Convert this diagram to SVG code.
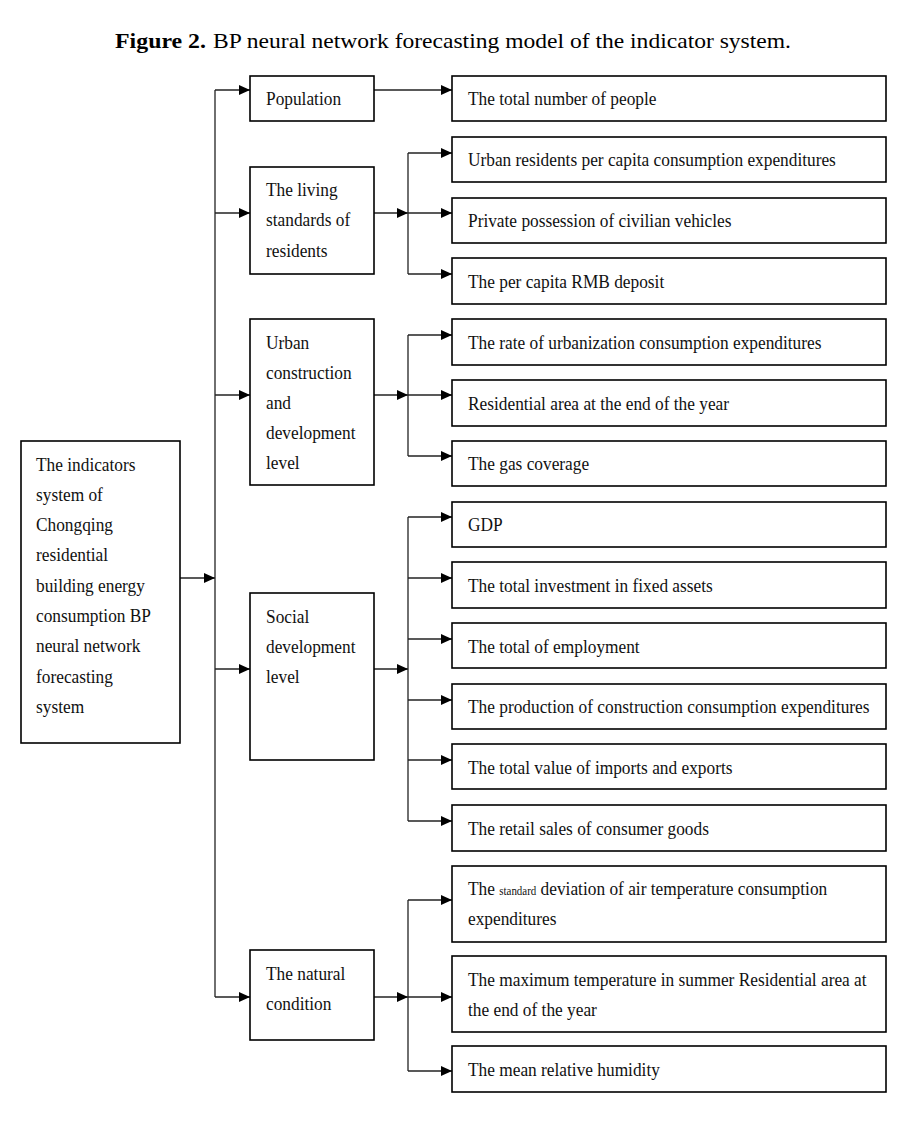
<svg xmlns="http://www.w3.org/2000/svg" width="920" height="1121" viewBox="0 0 920 1121">
<style>
.box{fill:#fff;stroke:#000;stroke-width:1.6}
.t{font-family:"Liberation Serif","Times New Roman",serif;font-size:19.8px;fill:#111}
.ti{font-family:"Liberation Serif","Times New Roman",serif;font-size:21px;fill:#000}
.c{fill:none;stroke:#222;stroke-width:1.3}
.a{marker-end:url(#ah)}
</style>
<defs>
<marker id="ah" markerUnits="userSpaceOnUse" markerWidth="11" markerHeight="10" refX="11" refY="5" orient="auto">
<path d="M0,0 L11,5 L0,10 z" fill="#000"/>
</marker>
</defs>
<rect width="920" height="1121" fill="#fff"/>
<g id="title">
<text class="ti" x="115" y="48" font-weight="bold" textLength="91" lengthAdjust="spacingAndGlyphs">Figure 2.</text>
<text class="ti" x="213" y="48" textLength="578" lengthAdjust="spacingAndGlyphs">BP neural network forecasting model of the indicator system.</text>
</g>
<g id="connectors">
<path class="c a" d="M180,578 H215"/>
<path class="c" d="M215,90 V997"/>
<path class="c a" d="M215,90 H250"/>
<path class="c a" d="M215,213 H250"/>
<path class="c a" d="M215,395 H250"/>
<path class="c a" d="M215,669 H250"/>
<path class="c a" d="M215,997 H250"/>
<path class="c a" d="M374,90 H452"/>
<path class="c a" d="M374,213 H408"/>
<path class="c" d="M408,153 V274"/>
<path class="c a" d="M408,153 H452"/>
<path class="c a" d="M408,213 H452"/>
<path class="c a" d="M408,274 H452"/>
<path class="c a" d="M374,395 H408"/>
<path class="c" d="M408,335 V456"/>
<path class="c a" d="M408,335 H452"/>
<path class="c a" d="M408,395 H452"/>
<path class="c a" d="M408,456 H452"/>
<path class="c a" d="M374,669 H408"/>
<path class="c" d="M408,517 V821"/>
<path class="c a" d="M408,517 H452"/>
<path class="c a" d="M408,578 H452"/>
<path class="c a" d="M408,639 H452"/>
<path class="c a" d="M408,700 H452"/>
<path class="c a" d="M408,760 H452"/>
<path class="c a" d="M408,821 H452"/>
<path class="c a" d="M374,997 H408"/>
<path class="c" d="M408,900 V1071"/>
<path class="c a" d="M408,900 H452"/>
<path class="c a" d="M408,997 H452"/>
<path class="c a" d="M408,1071 H452"/>
</g>
<g id="root">
<rect class="box" x="21" y="441" width="159" height="302"/>
<text class="t" transform="translate(36 470.5) scale(0.875 1)"><tspan x="0" y="0">The indicators</tspan><tspan x="0" y="30.3">system of</tspan><tspan x="0" y="60.6">Chongqing</tspan><tspan x="0" y="90.9">residential</tspan><tspan x="0" y="121.2">building energy</tspan><tspan x="0" y="151.5">consumption BP</tspan><tspan x="0" y="181.8">neural network</tspan><tspan x="0" y="212.1">forecasting</tspan><tspan x="0" y="242.4">system</tspan></text>
</g>
<g id="population">
<rect class="box" x="250" y="76" width="124" height="45"/>
<text class="t" transform="translate(266 105) scale(0.875 1)">Population</text>
</g>
<g id="living">
<rect class="box" x="250" y="167" width="124" height="107"/>
<text class="t" transform="translate(266 196) scale(0.875 1)"><tspan x="0" y="0">The living</tspan><tspan x="0" y="30.5">standards of</tspan><tspan x="0" y="61">residents</tspan></text>
</g>
<g id="urban">
<rect class="box" x="250" y="319" width="124" height="166"/>
<text class="t" transform="translate(266 349) scale(0.875 1)"><tspan x="0" y="0">Urban</tspan><tspan x="0" y="30">construction</tspan><tspan x="0" y="60">and</tspan><tspan x="0" y="90">development</tspan><tspan x="0" y="120">level</tspan></text>
</g>
<g id="social">
<rect class="box" x="250" y="593" width="124" height="167"/>
<text class="t" transform="translate(266 623) scale(0.875 1)"><tspan x="0" y="0">Social</tspan><tspan x="0" y="30">development</tspan><tspan x="0" y="60">level</tspan></text>
</g>
<g id="natural">
<rect class="box" x="250" y="950" width="124" height="90"/>
<text class="t" transform="translate(266 980) scale(0.875 1)"><tspan x="0" y="0">The natural</tspan><tspan x="0" y="30">condition</tspan></text>
</g>
<g id="r1"><rect class="box" x="452" y="76" width="434" height="45"/><text class="t" transform="translate(468 105) scale(0.875 1)">The total number of people</text></g>
<g id="r2"><rect class="box" x="452" y="137" width="434" height="45"/><text class="t" transform="translate(468 166) scale(0.875 1)">Urban residents per capita consumption expenditures</text></g>
<g id="r3"><rect class="box" x="452" y="198" width="434" height="45"/><text class="t" transform="translate(468 227) scale(0.875 1)">Private possession of civilian vehicles</text></g>
<g id="r4"><rect class="box" x="452" y="258" width="434" height="46"/><text class="t" transform="translate(468 288) scale(0.875 1)">The per capita RMB deposit</text></g>
<g id="r5"><rect class="box" x="452" y="319" width="434" height="46"/><text class="t" transform="translate(468 349) scale(0.875 1)">The rate of urbanization consumption expenditures</text></g>
<g id="r6"><rect class="box" x="452" y="380" width="434" height="46"/><text class="t" transform="translate(468 410) scale(0.875 1)">Residential area at the end of the year</text></g>
<g id="r7"><rect class="box" x="452" y="441" width="434" height="45"/><text class="t" transform="translate(468 470) scale(0.875 1)">The gas coverage</text></g>
<g id="r8"><rect class="box" x="452" y="502" width="434" height="45"/><text class="t" transform="translate(468 531) scale(0.875 1)">GDP</text></g>
<g id="r9"><rect class="box" x="452" y="562" width="434" height="46"/><text class="t" transform="translate(468 592) scale(0.875 1)">The total investment in fixed assets</text></g>
<g id="r10"><rect class="box" x="452" y="623" width="434" height="45"/><text class="t" transform="translate(468 653) scale(0.875 1)">The total of employment</text></g>
<g id="r11"><rect class="box" x="452" y="684" width="434" height="45"/><text class="t" transform="translate(468 713) scale(0.875 1)">The production of construction consumption expenditures</text></g>
<g id="r12"><rect class="box" x="452" y="744" width="434" height="45"/><text class="t" transform="translate(468 774) scale(0.875 1)">The total value of imports and exports</text></g>
<g id="r13"><rect class="box" x="452" y="805" width="434" height="46"/><text class="t" transform="translate(468 835) scale(0.875 1)">The retail sales of consumer goods</text></g>
<g id="r14"><rect class="box" x="452" y="866" width="434" height="76"/><text class="t" transform="translate(468 895) scale(0.875 1)"><tspan x="0" y="0">The <tspan font-size="12.5px">standard</tspan> deviation of air temperature consumption</tspan><tspan x="0" y="30">expenditures</tspan></text></g>
<g id="r15"><rect class="box" x="452" y="956" width="434" height="76"/><text class="t" transform="translate(468 986) scale(0.875 1)"><tspan x="0" y="0">The maximum temperature in summer Residential area at</tspan><tspan x="0" y="30">the end of the year</tspan></text></g>
<g id="r16"><rect class="box" x="452" y="1046" width="434" height="46"/><text class="t" transform="translate(468 1076) scale(0.875 1)">The mean relative humidity</text></g>
</svg>
